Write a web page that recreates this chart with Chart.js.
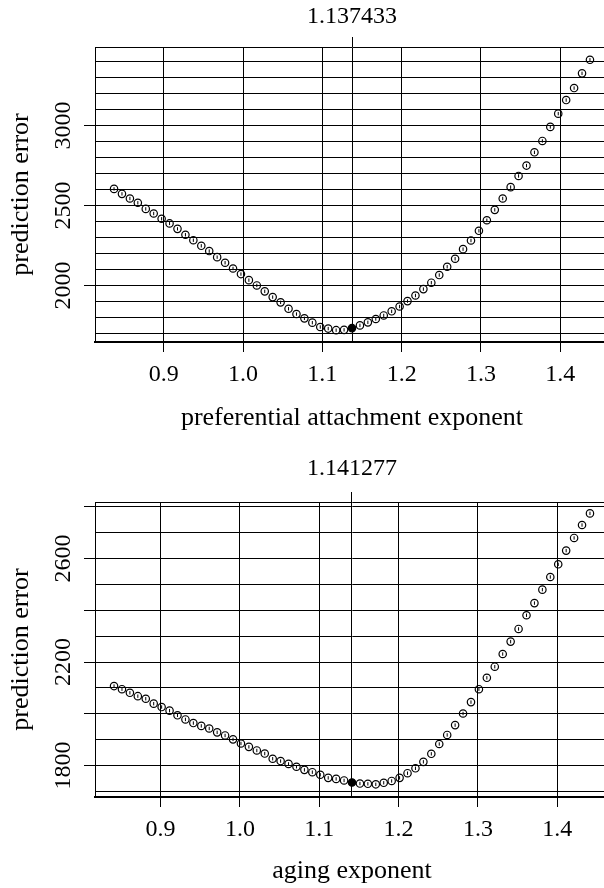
<!DOCTYPE html>
<html>
<head>
<meta charset="utf-8">
<script src="https://cdn.jsdelivr.net/npm/chart.js@4.4.1/dist/chart.umd.min.js"></script>
<style>
  html, body { margin: 0; padding: 0; background: #fff; }
  body { width: 604px; height: 888px; overflow: hidden; position: relative; }
  .panel { position: absolute; left: 0; }
  canvas { display: block; }
</style>
</head>
<body>
<div class="panel" style="top:0px"><canvas id="c1" width="620" height="455"></canvas></div>
<div class="panel" style="top:455px"><canvas id="c2" width="620" height="433"></canvas></div>
<script>
// ---------------- data ----------------
// Panel 1: preferential attachment exponent
const estimate1 = 1.137433;
const paExponent = [0.8374,0.8474,0.8574,0.8674,0.8774,0.8874,0.8974,0.9074,0.9174,0.9274,
  0.9374,0.9474,0.9574,0.9674,0.9774,0.9874,0.9974,1.0074,1.0174,1.0274,
  1.0374,1.0474,1.0574,1.0674,1.0774,1.0874,1.0974,1.1074,1.1174,1.1274,
  1.1374,1.1474,1.1574,1.1674,1.1774,1.1874,1.1974,1.2074,1.2174,1.2274,
  1.2374,1.2474,1.2574,1.2674,1.2774,1.2874,1.2974,1.3074,1.3174,1.3274,
  1.3374,1.3474,1.3574,1.3674,1.3774,1.3874,1.3974,1.4074,1.4174,1.4274,1.4374];
const paError = [2604,2573,2544,2517,2479,2450,2417,2388,2354,2317,
  2283,2248,2215,2177,2142,2106,2071,2033,2000,1963,
  1927,1894,1854,1821,1794,1767,1740,1730,1720,1722,
  1733,1750,1769,1790,1812,1838,1868,1902,1937,1977,
  2017,2065,2117,2167,2227,2281,2342,2408,2473,2544,
  2615,2685,2750,2833,2904,2992,3075,3160,3235,3327,3412];
const paXTicks = [0.9, 1.0, 1.1, 1.2, 1.3, 1.4];
const paYGrid = [1700,1800,1900,2000,2100,2200,2300,2400,2500,2600,2700,2800,2900,3000,3100,3200,3300,3400];
const paYTickMarks = [2000, 2500, 3000];
const paYLabels = [2000, 2500, 3000];

// Panel 2: aging exponent
const estimate2 = 1.141277;
const agExponent = [0.8413,0.8513,0.8613,0.8713,0.8813,0.8913,0.9013,0.9113,0.9213,0.9313,
  0.9413,0.9513,0.9613,0.9713,0.9813,0.9913,1.0013,1.0113,1.0213,1.0313,
  1.0413,1.0513,1.0613,1.0713,1.0813,1.0913,1.1013,1.1113,1.1213,1.1313,
  1.1413,1.1513,1.1613,1.1713,1.1813,1.1913,1.2013,1.2113,1.2213,1.2313,
  1.2413,1.2513,1.2613,1.2713,1.2813,1.2913,1.3013,1.3113,1.3213,1.3313,
  1.3413,1.3513,1.3613,1.3713,1.3813,1.3913,1.4013,1.4113,1.4213,1.4313,1.4413];
const agError = [2107,2095,2081,2068,2058,2039,2026,2012,1994,1978,
  1964,1953,1943,1928,1916,1901,1885,1872,1858,1846,
  1826,1817,1806,1795,1783,1774,1764,1752,1748,1742,
  1734,1730,1729,1727,1733,1740,1752,1770,1789,1814,
  1845,1883,1918,1956,2001,2045,2095,2139,2182,2231,
  2279,2328,2381,2428,2480,2529,2578,2631,2680,2730,2775];
const agXTicks = [0.9, 1.0, 1.1, 1.2, 1.3, 1.4];
const agYGrid = [1700,1800,1900,2000,2100,2200,2300,2400,2500,2600,2700,2800];
const agYTickMarks = [1800, 2000, 2200, 2400, 2600, 2800];
const agYLabels = [1800, 2200, 2600];

// ---------------- drawing ----------------
Chart.defaults.font.family = "'Liberation Serif', 'Times New Roman', serif";
Chart.defaults.color = '#000';

function makeChart(canvasId, cfg) {
  const pts = cfg.xs.map((x, i) => ({x: x, y: cfg.ys[i]}));
  let bestIdx = 0;
  cfg.xs.forEach((x, i) => { if (Math.abs(x - cfg.est) < Math.abs(cfg.xs[bestIdx] - cfg.est)) bestIdx = i; });
  const tickFont = {size: 24, family: Chart.defaults.font.family};
  const titleFont = {size: 26, family: Chart.defaults.font.family};
  return new Chart(document.getElementById(canvasId), {
    type: 'scatter',
    data: {
      datasets: [
        {
          data: pts,
          pointStyle: 'line',
          rotation: 90,
          pointRadius: 1.7,
          pointBorderWidth: 1,
          pointBorderColor: '#000',
          showLine: false,
          xAxisID: 'x', yAxisID: 'y'
        },
        {
          data: pts,
          pointStyle: 'circle',
          pointRadius: 3.7,
          pointBorderWidth: 1.2,
          pointBorderColor: '#000',
          pointBackgroundColor: (c) => c.dataIndex === bestIdx ? '#000' : 'rgba(0,0,0,0)',
          showLine: false,
          xAxisID: 'x', yAxisID: 'y'
        }
      ]
    },
    options: {
      responsive: false,
      animation: false,
      devicePixelRatio: 1,
      layout: {padding: {left: 0, top: 0, right: 11, bottom: 0}},
      plugins: {legend: {display: false}, tooltip: {enabled: false}, title: {display: false}},
      scales: {
        x: {
          type: 'linear', position: 'bottom',
          min: cfg.xMin, max: cfg.xMax,
          afterBuildTicks: (s) => { s.ticks = cfg.xTicks.map(v => ({value: v})); },
          afterFit: (s) => { s.height = cfg.bottomHeight; },
          ticks: {font: tickFont, padding: 8, autoSkip: false, maxRotation: 0, minRotation: 0,
                  callback: (v) => Number(v).toFixed(1)},
          grid: {color: '#000', lineWidth: 1, tickLength: 10, tickColor: '#000', drawTicks: true},
          border: {display: true, color: '#000', width: 2},
          title: {display: true, text: cfg.xTitle, font: titleFont, padding: {top: 0, bottom: cfg.titlePadBottom}}
        },
        xTop: {
          type: 'linear', position: 'top',
          min: cfg.xMin, max: cfg.xMax,
          afterBuildTicks: (s) => { s.ticks = [{value: cfg.est}]; },
          afterFit: (s) => { s.height = 47; },
          ticks: {font: tickFont, padding: cfg.topPad, autoSkip: false, maxRotation: 0, minRotation: 0,
                  callback: (v) => Number(v).toFixed(6)},
          grid: {color: '#000', lineWidth: 1, tickLength: 10, tickColor: '#000'},
          border: {display: true, color: '#000', width: 1}
        },
        y: {
          type: 'linear', position: 'left',
          min: cfg.yMin, max: cfg.yMax,
          afterBuildTicks: (s) => { s.ticks = cfg.yGrid.map(v => ({value: v})); },
          afterFit: (s) => { s.width = 95; },
          ticks: {font: tickFont, padding: -3.5, autoSkip: false, minRotation: 90, maxRotation: 90,
                  crossAlign: 'center',
                  callback: (v) => cfg.yLabels.includes(v) ? String(v) : ''},
          grid: {color: '#000', lineWidth: 1, tickLength: 11,
                 tickColor: (c) => (c.tick && cfg.yTickMarks.includes(c.tick.value)) ? '#000' : 'rgba(0,0,0,0)'},
          border: {display: true, color: '#000', width: 1},
          title: {display: true, text: 'prediction error', font: titleFont, padding: {top: 6, bottom: 0}}
        }
      }
    }
  });
}

makeChart('c1', {
  xs: paExponent, ys: paError, est: estimate1,
  xMin: 0.8134, xMax: 1.4614, yMin: 1646, yMax: 3492,
  xTicks: paXTicks, yGrid: paYGrid, yTickMarks: paYTickMarks, yLabels: paYLabels,
  xTitle: 'preferential attachment exponent',
  bottomHeight: 113, titlePadBottom: 21, topPad: 6
});
makeChart('c2', {
  xs: agExponent, ys: agError, est: estimate2,
  xMin: 0.8173, xMax: 1.4653, yMin: 1678, yMax: 2819,
  xTicks: agXTicks, yGrid: agYGrid, yTickMarks: agYTickMarks, yLabels: agYLabels,
  xTitle: 'aging exponent',
  bottomHeight: 91, titlePadBottom: 1, topPad: 9
});
</script>
</body>
</html>
